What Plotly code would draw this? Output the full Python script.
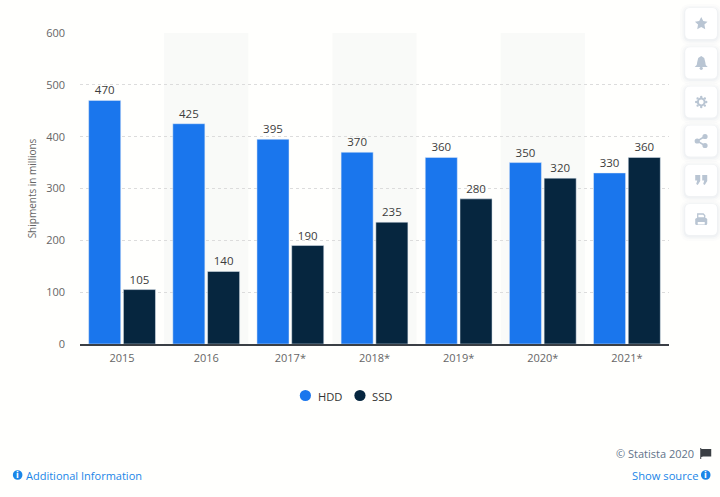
import plotly.graph_objects as go

categories = ["2015", "2016", "2017*", "2018*", "2019*", "2020*", "2021*"]
hdd = [470, 425, 395, 370, 360, 350, 330]
ssd = [105, 140, 190, 235, 280, 320, 360]
BLUE = "#1a76ed"
NAVY = "#06263f"
L, R, T, B = 80.3, 668.8, 33.0, 344.0
FONT = "Open Sans"
BG = "#fffffd"
ICON = "#b9c5d3"

def px(x):
    return (x - L) / (R - L)

def py(y):
    return (B - y) / (B - T)

def rrect(x0, y0, x1, y1, r):
    a, b, c, d = px(x0), px(x1), py(y0), py(y1)
    rx, ry = r / (R - L), r / (B - T)
    return (f"M{a+rx},{c} L{b-rx},{c} Q{b},{c} {b},{c-ry} L{b},{d+ry} Q{b},{d} {b-rx},{d} "
            f"L{a+rx},{d} Q{a},{d} {a},{d+ry} L{a},{c-ry} Q{a},{c} {a+rx},{c} Z")

def poly(points):
    return "M" + " L".join(f"{px(x)},{py(y)}" for x, y in points) + " Z"

def pshape(path, color):
    return dict(type="path", xref="paper", yref="paper", path=path, fillcolor=color, line_width=0, layer="above")

def circle(cx, cy, r, color, line=None):
    return dict(type="circle", xref="paper", yref="paper", x0=px(cx - r), x1=px(cx + r),
                y0=py(cy + r), y1=py(cy - r), fillcolor=color, layer="above",
                line=dict(width=2 if line else 0, color=line or color))

fig = go.Figure()
fig.add_bar(name="HDD", x=categories, y=hdd, marker_color=BLUE, text=hdd, textposition="outside",
            cliponaxis=False, showlegend=False, textfont=dict(size=11.5, color="#3c3c3c", family=FONT))
fig.add_bar(name="SSD", x=categories, y=ssd, marker_color=NAVY, text=ssd, textposition="outside",
            cliponaxis=False, showlegend=False, textfont=dict(size=11.5, color="#3c3c3c", family=FONT))

shapes = []
for i in (1, 3, 5):
    shapes.append(dict(type="rect", xref="x", yref="paper", x0=i - 0.5, x1=i + 0.5, y0=0, y1=1,
                       fillcolor="#f9faf8", line_width=0, layer="below"))

# side buttons
centers = [23.5, 62.8, 102, 141, 180.3, 219.5]
for cy in centers:
    for grow, op in ((5, "rgba(190,200,215,0.05)"), (3, "rgba(190,200,215,0.07)"), (1.5, "rgba(190,200,215,0.10)")):
        shapes.append(pshape(rrect(685 - grow, cy - 15.6 - grow + 1, 716.8 + grow, cy + 15.6 + grow + 1, 5 + grow), op))
    shapes.append(pshape(rrect(685, cy - 15.6, 716.8, cy + 15.6, 5), "#ffffff"))
# star
shapes.append(pshape(poly([(701, 17), (703, 21), (707.3, 21.7), (704.2, 24.6), (705, 29.3), (701, 27),
                           (697, 29.3), (697.8, 24.6), (694.7, 21.7), (699, 21)]), ICON))
# bell
shapes.append(pshape(poly([(701, 56), (704, 58), (705, 62), (705.5, 65), (707.5, 67), (694.5, 67),
                           (696.5, 65), (697, 62), (698, 58)]), ICON))
shapes.append(circle(701, 68.3, 1.6, ICON))
# gear
shapes.append(circle(701, 102, 3.4, "#ffffff", ICON))
for dx, dy in ((0, -5), (0, 5), (-5, 0), (5, 0), (-3.6, -3.6), (3.6, -3.6), (-3.6, 3.6), (3.6, 3.6)):
    shapes.append(circle(701 + dx, 102 + dy, 1.2, ICON))
# share
shapes.append(dict(type="path", xref="paper", yref="paper", layer="above",
                   path=f"M{px(704.5)},{py(136.5)} L{px(697)},{py(141)} L{px(704.5)},{py(145.5)}",
                   line=dict(color=ICON, width=1.5)))
shapes += [circle(697, 141, 2.6, ICON), circle(704.8, 136.5, 2.6, ICON), circle(704.8, 145.5, 2.6, ICON)]
# quote
for dx in (0, 7):
    shapes.append(pshape(poly([(695 + dx, 175), (700 + dx, 175), (700 + dx, 181), (697.5 + dx, 185),
                               (696 + dx, 184), (697 + dx, 180.5), (695 + dx, 180.5)]), ICON))
# printer
shapes.append(pshape(rrect(695, 218, 707, 225, 1.5), ICON))
shapes.append(pshape(rrect(697.5, 222, 704.5, 224.5, 0), "#ffffff"))
shapes.append(dict(type="path", xref="paper", yref="paper", layer="above",
                   path=poly([(697.5, 218), (697.5, 214), (703, 214), (704.5, 215.5), (704.5, 218)]),
                   line=dict(color=ICON, width=1.3), fillcolor="#ffffff"))
# footer icons
shapes.append(circle(18, 475, 4.8, "#1a86e8"))
shapes.append(circle(705.5, 475, 4.8, "#1a86e8"))
shapes.append(pshape(poly([(700, 448), (701, 448), (701, 449), (711, 449), (711, 456.5), (703, 456.5),
                           (701, 457), (701, 459), (700, 459)]), "#3b3f44"))
# legend keys
shapes.append(circle(305.5, 395.5, 5.6, BLUE))
shapes.append(circle(360, 395.5, 5.6, NAVY))

def note(x, y, text, size, color, anchor, family=FONT, weight=None):
    return dict(xref="paper", yref="paper", x=px(x), y=py(y), text=text, showarrow=False,
                xanchor=anchor, yanchor="middle",
                font=dict(size=size, color=color, family=family, weight=weight))

anns = [
    note(24, 475, "Additional Information", 11, "#1a86e8", "left"),
    note(700, 475, "Show source", 11.2, "#1a86e8", "right"),
    note(696, 453, "© Statista 2020", 11, "#5f7389", "right"),
    note(18, 475, "i", 8, "#ffffff", "center", "DejaVu Sans", 700),
    note(705.5, 475, "i", 8, "#ffffff", "center", "DejaVu Sans", 700),
    note(316, 396, "HDD", 11.2, "#333333", "left"),
    note(370, 396, "SSD", 11.2, "#333333", "left"),
]

fig.update_layout(
    width=720, height=497, autosize=False,
    margin=dict(l=L, r=720 - R, t=T, b=497 - B, pad=0),
    paper_bgcolor=BG, plot_bgcolor="rgba(0,0,0,0)",
    barmode="group", bargap=0.174, bargroupgap=0.078,
    font=dict(family=FONT),
    showlegend=False,
    shapes=shapes, annotations=anns,
    xaxis=dict(type="category", categoryorder="array", categoryarray=categories,
               tickfont=dict(size=11, color="#666666", family=FONT),
               showgrid=False, showline=True, linecolor="#3a3f45", linewidth=1.5, ticks="", ticklabelstandoff=3),
    yaxis=dict(range=[0, 600], dtick=100, tickfont=dict(size=11, color="#666666", family=FONT),
               gridcolor="#dcdcdc", griddash="dot", gridwidth=1, zeroline=False, ticks="", ticklabelstandoff=14,
               title=dict(text="Shipments in millions", font=dict(size=10, color="#666666", family=FONT), standoff=7)),
)
fig.write_html("out.html", config={"displayModeBar": False},
               post_script="document.body.style.margin='0';document.body.style.overflow='hidden';")
